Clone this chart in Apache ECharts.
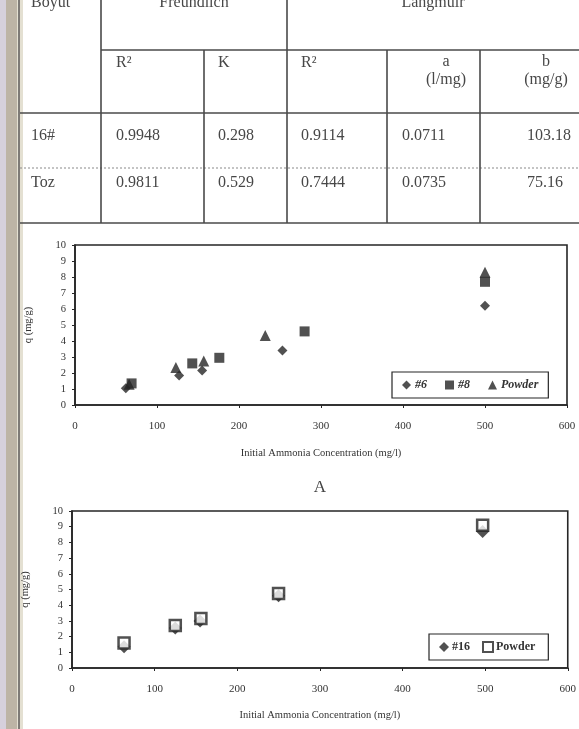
<!DOCTYPE html>
<html>
<head>
<meta charset="utf-8">
<script src="https://cdn.jsdelivr.net/npm/echarts@6/dist/echarts.min.js"></script>
<style>
html,body{margin:0;padding:0;background:#fff;}
#c{width:579px;height:729px;}
</style>
</head>
<body>
<div id="c"></div>
<script>
// ---- Table data ----
const tableHeader = ['Boyut', 'Freundlich', 'Langmuir'];
const subHeader = ['R²', 'K', 'R²', 'a\n(l/mg)', 'b\n(mg/g)'];
const rowLabels = ['16#', 'Toz'];
const freundlichR2 = ['0.9948', '0.9811'];
const freundlichK = ['0.298', '0.529'];
const langmuirR2 = ['0.9114', '0.7444'];
const langmuirA = ['0.0711', '0.0735'];
const langmuirB = ['103.18', '75.16'];

// ---- Chart A data ----
const conc6 = [62, 127, 155, 253, 500];
const q6 = [1.05, 1.85, 2.15, 3.4, 6.2];
const conc8 = [69, 143, 176, 280, 500];
const q8 = [1.35, 2.6, 2.95, 4.6, 7.7];
const concPowderA = [66, 123, 157, 232, 500];
const qPowderA = [1.3, 2.35, 2.75, 4.35, 8.3];

// ---- Chart B data ----
const conc16 = [63, 125, 155, 250, 497];
const q16 = [1.35, 2.55, 3.0, 4.6, 8.7];
const concPowderB = [63, 125, 156, 250, 497];
const qPowderB = [1.6, 2.7, 3.15, 4.75, 9.1];

const xTicks = [0, 100, 200, 300, 400, 500, 600];
const yTicks = [0, 1, 2, 3, 4, 5, 6, 7, 8, 9, 10];
const xName = 'Initial Ammonia Concentration (mg/l)';
const yName = 'q (mg/g)';
const panelLabel = 'A';

const zip = (a, b) => a.map((v, i) => [v, b[i]]);
const ink = '#262626';
const serif = 'Liberation Serif';

// ---- table graphics ----
const g = [];
// binding strip
g.push({type:'rect', shape:{x:0,y:0,width:6,height:729}, style:{fill:'#d6d0dc'}, silent:true});
g.push({type:'rect', shape:{x:6,y:0,width:11,height:729}, style:{fill:'#bdb4a6'}, silent:true});
g.push({type:'rect', shape:{x:17,y:0,width:6,height:729}, style:{fill:'#e4e0d2'}, silent:true});
g.push({type:'line', shape:{x1:19,y1:0,x2:19,y2:729}, style:{stroke:'#7e7a76', lineWidth:2}, silent:true});

const lineStyle = {stroke:'#4a4a4a', lineWidth:1.6};
const hl = (y, x1, x2, dashed) => g.push({type:'line', shape:{x1:x1,y1:y,x2:x2,y2:y}, style:Object.assign({}, lineStyle, dashed?{lineDash:[2,2], stroke:'#8a8a8a', lineWidth:1.2}:{}), silent:true});
const vl = (x, y1, y2) => g.push({type:'line', shape:{x1:x,y1:y1,x2:x,y2:y2}, style:lineStyle, silent:true});
hl(50, 101, 579);
hl(113, 20, 579);
hl(168, 20, 579, true);
hl(223, 20, 579);
vl(101, 0, 223);
vl(287, 0, 223);
vl(204, 50, 223);
vl(387, 50, 223);
vl(480, 50, 223);

const txt = (s, x, y, align) => g.push({type:'text', x:x, y:y, style:{text:s, fill:'#474747', font:'16px "Liberation Serif"', textAlign:align||'left', textVerticalAlign:'middle', lineHeight:18}, silent:true});
// header row (cut off at top)
txt(tableHeader[0], 31, 3);
txt(tableHeader[1], 194, 3, 'center');
txt(tableHeader[2], 433, 3, 'center');
// sub header
const colX = [116, 218, 301, 446, 546];
const colAlign = ['left','left','left','center','center'];
subHeader.forEach((s, i) => txt(s, colX[i], s.indexOf('\n')>=0 ? 71 : 63, colAlign[i]));
// data rows
const rowY = [136, 183];
const valX = [116, 218, 301, 402, 527];
rowLabels.forEach((lab, r) => {
  txt(lab, 31, rowY[r]);
  [freundlichR2, freundlichK, langmuirR2, langmuirA, langmuirB].forEach((arr, c) => txt(arr[r], valX[c], rowY[r]));
});
// panel label
g.push({type:'text', x:320, y:488, style:{text:panelLabel, fill:'#444', font:'17px "Liberation Serif"', textAlign:'center', textVerticalAlign:'middle'}, silent:true});

function xAxisCfg(idx, gap) {
  return {
    type:'value', gridIndex:idx, min:xTicks[0], max:xTicks[xTicks.length-1], interval:100,
    name:xName, nameLocation:'middle', nameGap:gap,
    nameTextStyle:{fontFamily:serif, fontSize:10.5, color:'#333'},
    axisLine:{show:true, lineStyle:{color:ink, width:1.6}},
    axisTick:{show:true, inside:false, length:3, lineStyle:{color:ink}},
    axisLabel:{fontFamily:serif, fontSize:11, color:'#333', margin:16},
    splitLine:{show:false}
  };
}
function yAxisCfg(idx, gap) {
  return {
    type:'value', gridIndex:idx, min:yTicks[0], max:yTicks[yTicks.length-1], interval:1,
    name:yName, nameLocation:'middle', nameGap:gap,
    nameTextStyle:{fontFamily:serif, fontSize:10.5, color:'#333'},
    axisLine:{show:true, lineStyle:{color:ink, width:1.6}},
    axisTick:{show:true, inside:false, length:3, lineStyle:{color:ink}},
    axisLabel:{fontFamily:serif, fontSize:10.5, color:'#333', margin:9},
    splitLine:{show:false}
  };
}

const chart = echarts.init(document.getElementById('c'), null, {renderer:'canvas'});
chart.setOption({
  backgroundColor:'#fff',
  animation:false,
  graphic: g,
  grid:[
    {left:75, top:245, width:492, height:160, show:true, borderColor:ink, borderWidth:1.6, backgroundColor:'transparent'},
    {left:72, top:511, width:500, height:157, show:true, borderColor:ink, borderWidth:1.6, backgroundColor:'transparent'}
  ],
  xAxis:[xAxisCfg(0, 43), xAxisCfg(1, 42)],
  yAxis:[yAxisCfg(0, 41), yAxisCfg(1, 41)],
  legend:[
    {data:['#6','#8','Powder'], left:392, top:372, orient:'horizontal',
     itemWidth:9, itemHeight:9, itemGap:18, padding:[7,10],
     borderColor:ink, borderWidth:1.2, backgroundColor:'#fff',
     textStyle:{fontFamily:serif, fontSize:12, fontWeight:'bold', fontStyle:'italic', color:'#333', padding:[0,0,0,-1]}},
    {data:['#16','Powder '], left:429, top:634, orient:'horizontal',
     itemWidth:10, itemHeight:10, itemGap:12, padding:[7,10],
     borderColor:ink, borderWidth:1.2, backgroundColor:'#fff',
     textStyle:{fontFamily:serif, fontSize:12, fontWeight:'bold', color:'#333', padding:[0,0,0,-2]}}
  ],
  series:[
    {name:'#6', type:'scatter', xAxisIndex:0, yAxisIndex:0, symbol:'diamond', symbolSize:10, itemStyle:{color:ink}, data:zip(conc6, q6)},
    {name:'Powder', type:'scatter', xAxisIndex:0, yAxisIndex:0, symbol:'triangle', symbolSize:11, itemStyle:{color:ink}, data:zip(concPowderA, qPowderA)},
    {name:'#8', type:'scatter', xAxisIndex:0, yAxisIndex:0, symbol:'rect', symbolSize:10, itemStyle:{color:ink}, data:zip(conc8, q8)},
    {name:'#16', type:'scatter', xAxisIndex:1, yAxisIndex:1, symbol:'diamond', symbolSize:13, itemStyle:{color:ink}, data:zip(conc16, q16)},
    {name:'Powder ', type:'scatter', xAxisIndex:1, yAxisIndex:1, symbol:'rect', symbolSize:11, itemStyle:{color:'#fff', borderColor:ink, borderWidth:2.5}, data:zip(concPowderB, qPowderB)}
  ]
});
</script>
</body>
</html>
